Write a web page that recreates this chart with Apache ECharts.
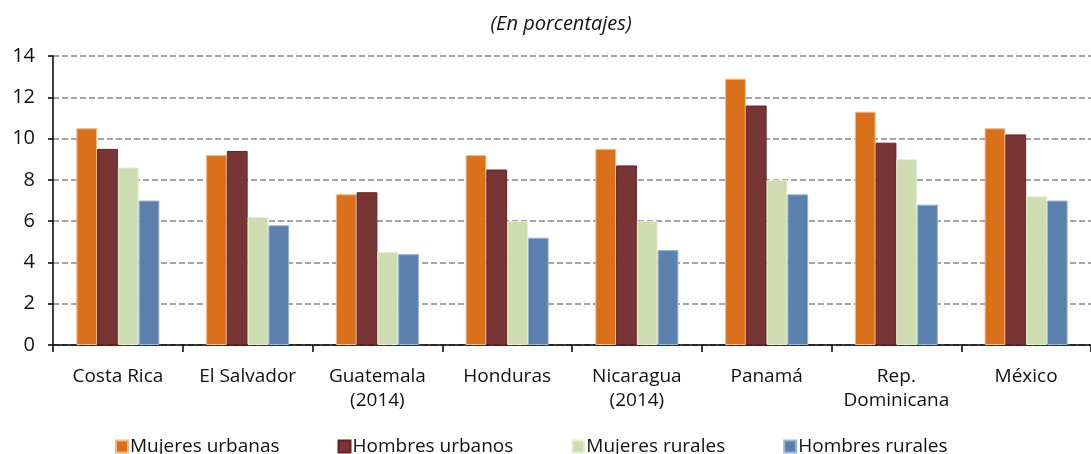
<!DOCTYPE html>
<html>
<head>
<meta charset="utf-8">
<script src="https://cdn.jsdelivr.net/npm/echarts@6/dist/echarts.min.js"></script>
<style>
  html, body { margin: 0; padding: 0; background: #fff; }
  #chart { width: 1091px; height: 454px; }
</style>
</head>
<body>
<div id="chart"></div>
<script>
// categories and values (percent)
const countries = ['Costa Rica', 'El Salvador', 'Guatemala\n(2014)', 'Honduras', 'Nicaragua\n(2014)', 'Panamá', 'Rep.\nDominicana', 'México']
const mujeresUrbanas = [10.5, 9.2, 7.3, 9.2, 9.5, 12.9, 11.3, 10.5]
const hombresUrbanos = [9.5, 9.4, 7.4, 8.5, 8.7, 11.6, 9.8, 10.2]
const mujeresRurales = [8.6, 6.2, 4.5, 6.0, 6.0, 8.0, 9.0, 7.2]
const hombresRurales = [7.0, 5.8, 4.4, 5.2, 4.6, 7.3, 6.8, 7.0]
const seriesNames = ['Mujeres urbanas', 'Hombres urbanos', 'Mujeres rurales', 'Hombres rurales']

const colors = ['#da7019', '#773535', '#cedcb2', '#5b80ae']
const borders = ['#f3b88a', '#6a2020', '#e6efcf', '#9db6d6']
const font = 'Open Sans'

function bar(name, data, i) {
  return {
    name: name,
    type: 'bar',
    data: data,
    barGap: '0%',
    barCategoryGap: '36%',
    itemStyle: { color: colors[i], borderColor: borders[i], borderWidth: 1 }
  }
}

const chart = echarts.init(document.getElementById('chart'))
chart.setOption({
  animation: false,
  title: {
    text: '(En porcentajes)',
    left: 556,
    top: 9,
    textAlign: 'center',
    textStyle: { fontFamily: font, fontStyle: 'italic', fontWeight: 'normal', fontSize: 20, color: '#111' }
  },
  color: colors,
  legend: {
    data: seriesNames,
    left: 110,
    top: 432,
    itemWidth: 12,
    itemHeight: 12,
    itemGap: 58,
    icon: 'rect',
    textStyle: { fontFamily: font, fontSize: 19, color: '#111', padding: [0, 0, 0, -3] }
  },
  grid: { left: 53, right: -14, top: 56, bottom: 109, containLabel: false },
  xAxis: {
    type: 'category',
    data: countries,
    axisLine: { lineStyle: { color: '#000', width: 1.5 } },
    axisTick: { show: true, interval: 0, length: 7, lineStyle: { color: '#000', width: 1.5 } },
    axisLabel: { interval: 0, fontFamily: font, fontSize: 19, color: '#111', margin: 20, lineHeight: 24 }
  },
  yAxis: {
    type: 'value',
    min: 0,
    max: 14,
    interval: 2,
    axisLine: { show: true, lineStyle: { color: '#000', width: 1.5 } },
    axisTick: { show: true, length: 5, lineStyle: { color: '#000', width: 1.5 } },
    axisLabel: { fontFamily: font, fontSize: 20, color: '#111', margin: 18 },
    splitLine: { lineStyle: { color: '#888', type: [6, 3], width: 1.5 } }
  },
  series: [
    bar(seriesNames[0], mujeresUrbanas, 0),
    bar(seriesNames[1], hombresUrbanos, 1),
    bar(seriesNames[2], mujeresRurales, 2),
    bar(seriesNames[3], hombresRurales, 3)
  ]
})
</script>
</body>
</html>
